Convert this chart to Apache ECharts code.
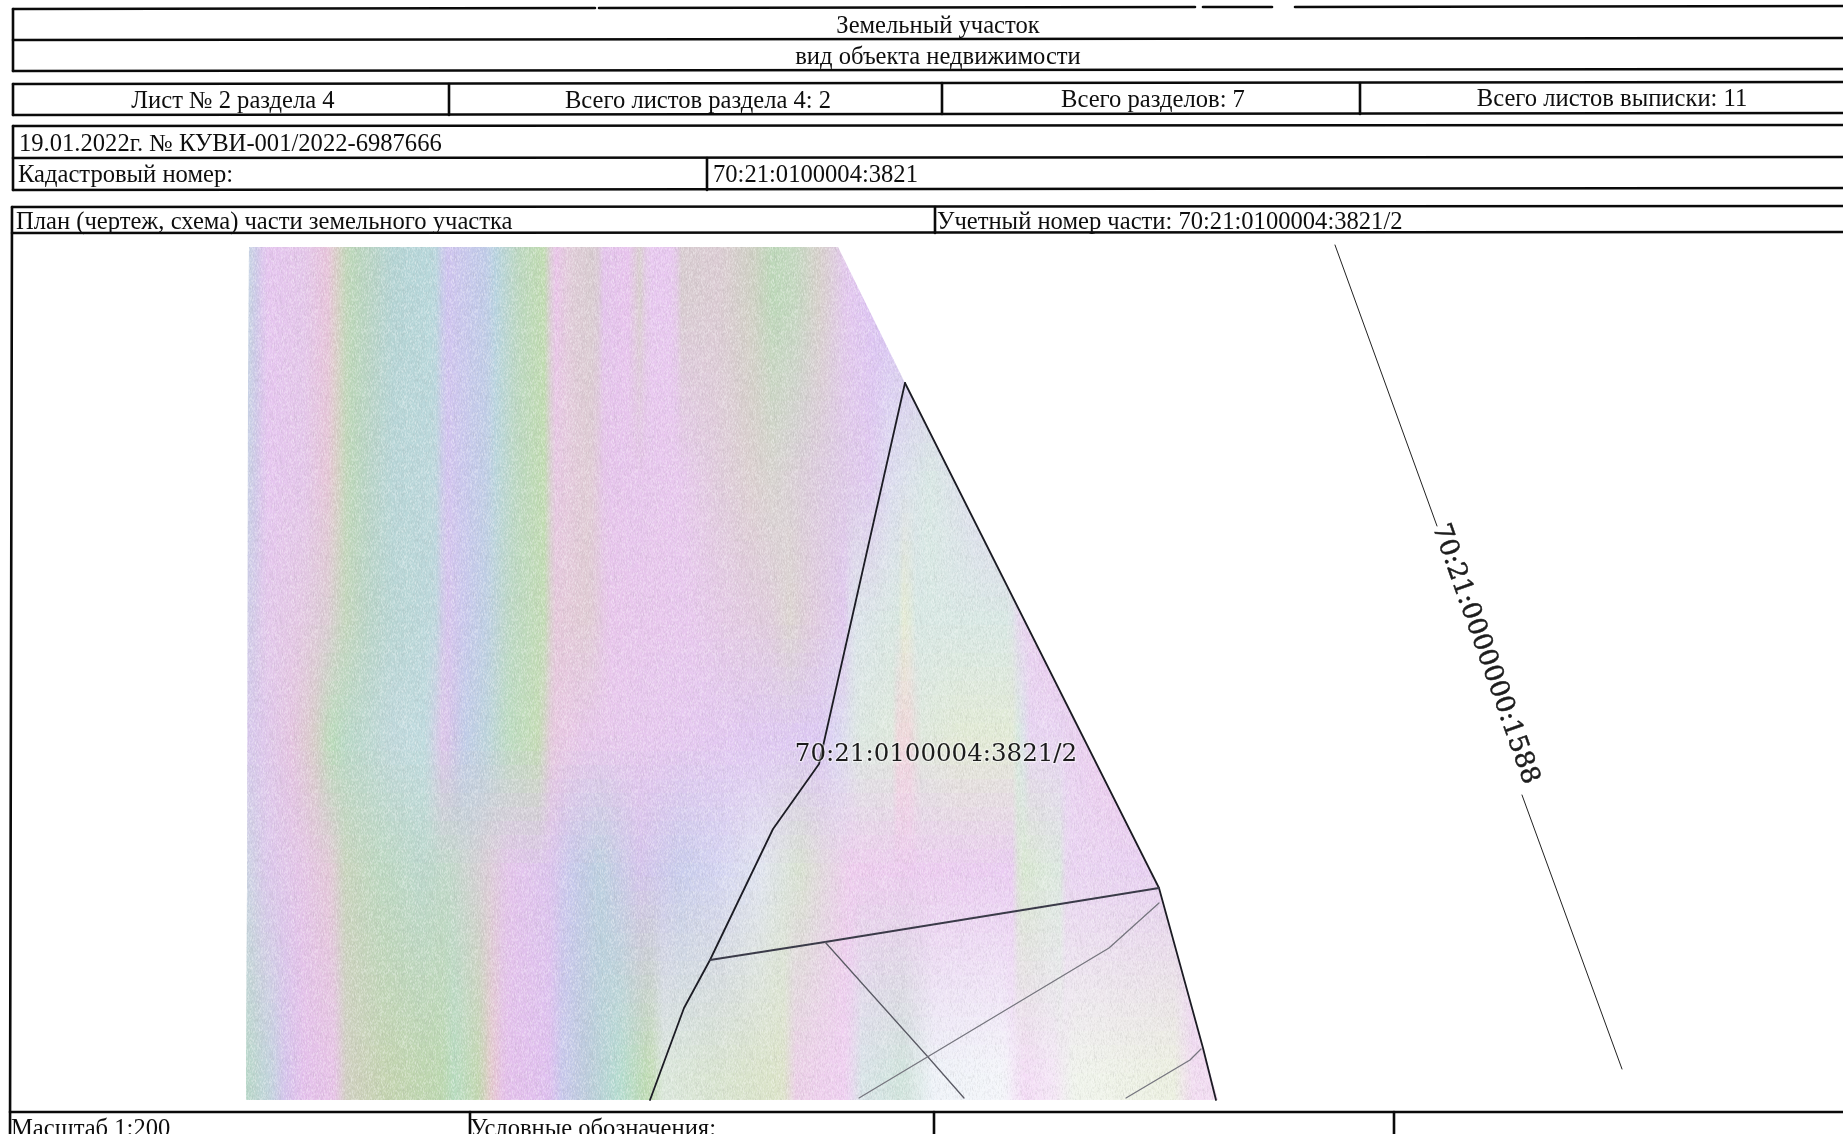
<!DOCTYPE html>
<html><head><meta charset="utf-8">
<style>html,body{margin:0;padding:0;background:#fff;overflow:hidden}#c{width:1843px;height:1134px}</style>
<script src="https://cdn.jsdelivr.net/npm/echarts@6/dist/echarts.min.js"></script>
</head><body><div id="c"></div>
<script>
// Form text: [text, x, y, align]
const formLabels = [
  ['Земельный участок', 938, 27, 'center'],
  ['вид объекта недвижимости', 938, 58, 'center'],
  ['Лист № 2 раздела 4', 233, 102, 'center'],
  ['Всего листов раздела 4: 2', 698, 102, 'center'],
  ['Всего разделов: 7', 1153, 101, 'center'],
  ['Всего листов выписки: 11', 1612, 100, 'center'],
  ['19.01.2022г. № КУВИ-001/2022-6987666', 19, 145, 'left'],
  ['Кадастровый номер:', 18, 176, 'left'],
  ['70:21:0100004:3821', 713, 176, 'left'],
  ['План (чертеж, схема) части земельного участка', 16, 223, 'left'],
  ['Учетный номер части: 70:21:0100004:3821/2', 937, 223, 'left'],
  ['Масштаб 1:200', 11, 1130, 'left'],
  ['Условные обозначения:', 470, 1130, 'left']
];
// Table rules as [x1, y1, x2, y2]
const tableRules = [
  [13,9,595,8],[599,8,1195,7],[1203,7,1272,7],[1295,7,1843,6],
  [13,40,1843,38],[13,71,1843,69],[13,9,13,71],
  [13,84,1843,82],[13,115,1843,113],[13,84,13,115],[449,84,449,115],[942,83,942,114],[1360,83,1360,114],
  [13,126,1843,125],[13,158,1843,157],[13,190,1843,188],[13,126,13,190],[707,158,707,190],
  [12,207,1843,206],[12,233,1843,232],[935,207,935,233],
  [12,207,10,1134],
  [10,1112,1843,1112],[470,1112,470,1134],[934,1112,934,1134],[1394,1112,1394,1134]
];
// Plan lines
const parcelOutline = [[905,383],[819,764],[773,829],[710,960],[684,1008],[650,1100]];
const parcelRight = [[905,383],[1159,888],[1203,1048],[1216,1100]];
const partDivider = [[710,960],[825,942],[1159,888]];
const innerLineA = [[825,942],[928,1057],[964,1098]];
const innerLineB = [[1159,903],[1109,948],[859,1098]];
const innerLineC = [[1201,1049],[1190,1060],[1126,1098]];
const roadUpper = [[1335,245],[1437,526]];
const roadLower = [[1522,795],[1622,1069]];
// Plan labels: [text, x, y, rotation in degrees, size, stroke colour, stroke width]
const planLabels = [
  ['70:21:0100004:3821/2', 936, 755, 0, 24.5, 'rgba(255,255,255,0.5)', 2.5],
  ['70:21:0000000:1588', 1485, 654, -70.5, 26, '#222', 0.5]
];
// Outline of the tinted map image: [y, left x, right x]
const mapY = [247, 383, 888, 1048, 1100];
const mapLeft = [249, 248, 247, 246, 246];
const mapRight = [838, 905, 1159, 1203, 1218];
// Colour bands of the scan, one list per read-off row
const bandRowY = [300, 480, 620, 740, 870, 1075];
const bandRow300 = [[249,'#c8d4e4'],[257,'#cfc8ea'],[266,'#e6c6f0'],[305,'#e4c6ea'],[327,'#e8c4dc'],[338,'#d8d0c4'],[348,'#bcd8b8'],[370,'#b8d4c4'],[392,'#b4d4d4'],[435,'#b8d8dc'],[446,'#d0c4f0'],[465,'#c8c8ec'],[487,'#c0cce8'],[496,'#b8d4e0'],[518,'#bcd8c0'],[544,'#c0dcb0'],[554,'#ecc4ec'],[570,'#e0ccd8'],[596,'#d8ccd0'],[604,'#e4c4ec'],[630,'#e8c4ee'],[639,'#d8d0cc'],[648,'#e8c8f0'],[674,'#e8c8f0'],[682,'#d8ccd0'],[717,'#dcccd4'],[752,'#d0d0c4'],[773,'#bcd8b8'],[795,'#c4d8c0'],[821,'#d8d0cc'],[847,'#e4c8f0'],[877,'#dcc4f4'],[1218,'#dcc4f4']];
const bandRow480 = [[249,'#cad0e6'],[257,'#d2c8ea'],[266,'#e6c6f0'],[305,'#e4c6ea'],[327,'#e6c6d8'],[338,'#d8d0c4'],[348,'#bcd8b8'],[370,'#b8d4c8'],[392,'#b8d6d8'],[435,'#bcd8dc'],[446,'#d4c4f0'],[465,'#c8c8ec'],[487,'#c0cee6'],[496,'#bad6dc'],[518,'#bcd8c0'],[544,'#c0dcb0'],[554,'#e8c8e4'],[590,'#e0ccd4'],[606,'#e6c4ec'],[680,'#e8c8ee'],[720,'#e0ccdc'],[752,'#dcd0d0'],[773,'#d8d4d0'],[810,'#dcccdc'],[870,'#e0c8f0'],[890,'#dcdcf0'],[930,'#d8e8e4'],[980,'#e0dcf0'],[1030,'#e8d0f0'],[1218,'#e8d0f0']];
const bandRow620 = [[249,'#d0cce8'],[266,'#e4c8ec'],[300,'#e4c8e4'],[327,'#dcccd4'],[345,'#c4d6bc'],[370,'#b8d4c8'],[392,'#b8d6d4'],[435,'#bcd8dc'],[446,'#d8c4ee'],[465,'#c8c8ec'],[487,'#bed0e4'],[510,'#bcd8c4'],[544,'#c2dcb4'],[554,'#e6c8dc'],[590,'#e0ccd4'],[610,'#e8c6ec'],[690,'#e8c8ee'],[770,'#e0ccdc'],[790,'#dcd4d0'],[810,'#e0ccdc'],[846,'#e0c8f0'],[852,'#dce4ec'],[900,'#d8e8e0'],[905,'#e8ecd0'],[915,'#d8e8e4'],[1010,'#d8e8e4'],[1020,'#e8d4f0'],[1050,'#ecccf0'],[1218,'#ecccf0']];
const bandRow740 = [[249,'#d8c8ec'],[266,'#e0c8ec'],[292,'#e4c4e0'],[314,'#d8ccc8'],[331,'#b8dcb8'],[348,'#b8d8c8'],[392,'#c0d8dc'],[426,'#c0dce0'],[444,'#e0c4ec'],[452,'#d0c4e8'],[465,'#c0cce8'],[487,'#bcd4dc'],[509,'#bcdcc0'],[539,'#c4dcb4'],[552,'#e8c8e0'],[587,'#e8c8ec'],[674,'#e6c8f0'],[821,'#dcc8f4'],[837,'#dcd8f4'],[860,'#dce8e0'],[893,'#dee8dc'],[897,'#f0d8dc'],[913,'#f0d8dc'],[918,'#dee8dc'],[960,'#e2ead4'],[1013,'#e2ead4'],[1020,'#d4eae4'],[1030,'#e8d4f2'],[1060,'#e8d4f2'],[1110,'#eeccee'],[1218,'#eeccee']];
const bandRow870 = [[247,'#ccd4e4'],[266,'#dcc8ec'],[300,'#e4c4e8'],[330,'#e4c8d8'],[345,'#c8d4bc'],[380,'#bcd8c0'],[420,'#bcd8cc'],[450,'#c0d8c8'],[490,'#dcccd8'],[510,'#e4c4ec'],[550,'#dcc4ee'],[570,'#c8c8ec'],[600,'#bcd0e0'],[640,'#d4c4ec'],[680,'#c8ccec'],[720,'#d4d4f2'],[760,'#e0e4f0'],[800,'#d8e2d0'],[850,'#eeccee'],[1012,'#eaccf2'],[1020,'#d8e8d0'],[1060,'#dce8e0'],[1067,'#ead4f2'],[1146,'#e8d0f2'],[1218,'#e8d0f2']];
const bandRow1075 = [[246,'#b8d8c8'],[272,'#c4d4e0'],[284,'#d4c4ec'],[303,'#e4c0ec'],[335,'#e8c4e8'],[347,'#d0d0c0'],[385,'#c4d4b0'],[442,'#bcd8b0'],[455,'#b8dcc0'],[480,'#c4d8b0'],[492,'#e8c8d0'],[505,'#e4c0ec'],[549,'#e0c0f0'],[562,'#c8c8ec'],[587,'#bcccdc'],[619,'#b4dcd0'],[650,'#c0dcb0'],[663,'#dce8dc'],[713,'#d8e4d0'],[783,'#dce4c8'],[796,'#ecd0e8'],[846,'#f0d0f2'],[862,'#d8e4e8'],[903,'#d0e4dc'],[934,'#eef2f8'],[1004,'#f4f6fa'],[1023,'#f4dcf6'],[1054,'#f4e6f6'],[1073,'#f0f4ec'],[1174,'#ecf0e0'],[1193,'#f2dcf2'],[1218,'#f2dcf2']];
const bandRows = [bandRow300, bandRow480, bandRow620, bandRow740, bandRow870, bandRow1075];

// --- rendering helpers ---
const hex = c => [1,3,5].map(i => parseInt(c.substr(i,2),16));
function colourAt(row, x) {
  if (x <= row[0][0]) return hex(row[0][1]);
  for (let i = 1; i < row.length; i++) if (x <= row[i][0]) {
    const t = (x-row[i-1][0])/(row[i][0]-row[i-1][0]), a = hex(row[i-1][1]), b = hex(row[i][1]);
    return a.map((v,k)=>v+(b[k]-v)*t);
  }
  return hex(row[row.length-1][1]);
}
function piecewise(xs, ys, x) {
  if (x <= xs[0]) return ys[0];
  for (let i = 1; i < xs.length; i++) if (x <= xs[i]) return ys[i-1]+(ys[i]-ys[i-1])*(x-xs[i-1])/(xs[i]-xs[i-1]);
  return ys[ys.length-1];
}
const gradX0 = 244, gradX1 = 1220, gradStep = 6;
function sliceStops(y) {
  let r = 0;
  while (r < bandRowY.length-2 && y > bandRowY[r+1]) r++;
  const t = Math.max(0, Math.min(1, (y-bandRowY[r])/(bandRowY[r+1]-bandRowY[r])));
  const stops = [];
  for (let x = gradX0; x <= gradX1; x += gradStep) {
    const a = colourAt(bandRows[r], x), b = colourAt(bandRows[r+1], x);
    const c = a.map((v,k)=>Math.round(v+(b[k]-v)*t));
    stops.push({offset:(x-gradX0)/(gradX1-gradX0), color:`rgb(${c[0]},${c[1]},${c[2]})`});
  }
  return stops;
}
const slices = [];
for (let y = mapY[0]; y < mapY[mapY.length-1]; y += 14) slices.push([y, Math.min(y+14, mapY[mapY.length-1])]);

// Fixed speckle tile for the scanner grain (a texture, not chart data)
function grainTile() {
  const s = 160, cv = document.createElement('canvas'); cv.width = cv.height = s;
  const g = cv.getContext('2d');
  const h = (i,j) => { const v = Math.sin(i*12.9898+j*78.233)*43758.5453; return v-Math.floor(v); };
  for (let i = 0; i < s; i++) for (let j = 0; j < s; j++) {
    const v = h(i, j);
    if (v < 0.25) { g.fillStyle = `rgba(130,130,130,${0.03+v*0.16})`; g.fillRect(i,j,1,1+(v*10|0)%3); }
    else if (v > 0.65) { g.fillStyle = `rgba(255,255,255,${(v-0.65)*0.7})`; g.fillRect(i,j,1,2); }
  }
  return cv;
}
const tile = grainTile();

const chart = echarts.init(document.getElementById('c'), null, {renderer:'canvas'});
const lineSeries = (pts, color, width) => ({type:'line', data:pts, symbol:'none', silent:true, animation:false, z:5,
  lineStyle:{color, width, cap:'round', join:'round'}});
const outlineFull = [[mapLeft[0],mapY[0]]].concat(mapY.map((y,i)=>[mapRight[i],y]), [[mapLeft[mapLeft.length-1],mapY[mapY.length-1]]]);

chart.setOption({
  animation:false,
  backgroundColor:'#ffffff',
  grid:{left:0,right:0,top:0,bottom:0},
  xAxis:{type:'value',min:0,max:1843,show:false},
  yAxis:{type:'value',min:0,max:1134,inverse:true,show:false},
  series:[
    {type:'custom', silent:true, clip:false, z:1, data:slices,
     renderItem:(p,api)=>{
       const y0=api.value(0), y1=api.value(1), yb=Math.min(y1+1,mapY[mapY.length-1]);
       const pts=[[piecewise(mapY,mapLeft,y0),y0],[piecewise(mapY,mapRight,y0),y0],[piecewise(mapY,mapRight,yb),yb],[piecewise(mapY,mapLeft,yb),yb]].map(q=>api.coord(q));
       const a=api.coord([gradX0,0]), b=api.coord([gradX1,0]);
       return {type:'polygon',shape:{points:pts},
         style:{fill:new echarts.graphic.LinearGradient(a[0],0,b[0],0,sliceStops((y0+y1)/2),true)}};
     }},
    {type:'custom', silent:true, clip:false, z:2, data:[[0]],
     renderItem:(p,api)=>({type:'polygon',shape:{points:outlineFull.map(q=>api.coord(q))},
       style:{fill:{image:tile,repeat:'repeat'}}})},
    ...tableRules.map(r=>lineSeries([[r[0],r[1]],[r[2],r[3]]],'#0a0a0a',2.6)),
    lineSeries(parcelOutline,'#1c1c24',1.8),
    lineSeries(parcelRight,'#1c1c24',1.8),
    lineSeries(partDivider,'#3a3a48',1.9),
    lineSeries(innerLineA,'#5a5a64',1.3),
    lineSeries(innerLineB,'#75757e',1.3),
    lineSeries(innerLineC,'#75757e',1.3),
    lineSeries(roadUpper,'#222',1),
    lineSeries(roadLower,'#222',1),
    {type:'custom', silent:true, clip:false, z:10, data:formLabels.map((l,i)=>[i]),
     renderItem:(p,api)=>{
       const l=formLabels[api.value(0)], c=api.coord([l[1],l[2]]);
       return {type:'text',x:c[0],y:c[1],
         style:{text:l[0],x:0,y:0,align:l[3],verticalAlign:'middle',fill:'#0e0e0e',
           font:'24.6px "Liberation Serif"'}};
     }},
    {type:'custom', silent:true, clip:false, z:11, data:planLabels.map((l,i)=>[i]),
     renderItem:(p,api)=>{
       const l=planLabels[api.value(0)], c=api.coord([l[1],l[2]]);
       return {type:'text',x:c[0],y:c[1],rotation:l[3]*Math.PI/180,
         style:{text:l[0],x:0,y:0,align:'center',verticalAlign:'middle',fill:'#1c1c1c',
           stroke:l[5],lineWidth:l[6],
           font:l[4]+'px "DejaVu Serif"'}};
     }}
  ]
});
</script></body></html>
